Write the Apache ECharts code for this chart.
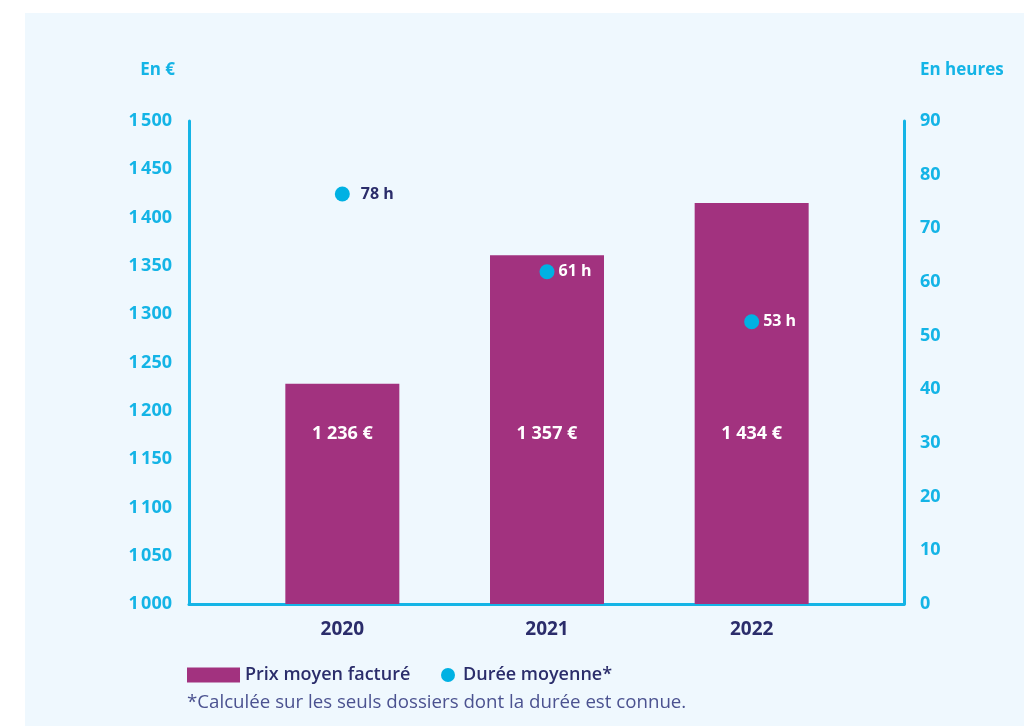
<!DOCTYPE html>
<html><head><meta charset="utf-8">
<script src="https://cdn.jsdelivr.net/npm/echarts@6/dist/echarts.min.js"></script>
<style>html,body{margin:0;padding:0;background:#fff}#c{width:1024px;height:726px}</style>
</head><body><div id="c"></div>
<script>
// Data
const categories = ['2020', '2021', '2022'];
const prixMoyen = [1228, 1361, 1415];           // bar heights as drawn (€)
const prixLabels = ['1 236 €', '1 357 €', '1 434 €'];
const dureeMoyenne = [76.4, 61.9, 52.6];         // dot positions as drawn (h)
const dureeLabels = ['78 h', '61 h', '53 h'];
const leftAxisName = 'En €';
const rightAxisName = 'En heures';
const seriesNames = ['Prix moyen facturé', 'Durée moyenne*'];
const footnote = '*Calculée sur les seuls dossiers dont la durée est connue.';

const FONT = '"Open Sans"';
const CYAN = '#14b4e6';
const NAVY = '#2b2d6b';
const PURPLE = '#a2327f';
const DOT = '#00b1e3';

function fmtThousands(v) {
  const s = String(Math.round(v));
  if (s.length > 3) return s.slice(0, s.length - 3) + '\u202f' + s.slice(-3);
  return s;
}

const chart = echarts.init(document.getElementById('c'), null, {renderer: 'canvas'});
chart.setOption({
  backgroundColor: '#ffffff',
  animation: false,
  textStyle: {fontFamily: FONT},
  graphic: [
    {type: 'rect', z: -100, silent: true, shape: {x: 25, y: 13, width: 1000, height: 714}, style: {fill: '#eff8fe'}},
    {type: 'text', left: 187, top: 693, style: {text: footnote, fill: '#4b5290', font: '400 18.7px ' + FONT}}
  ],
  legend: [
    {data: [{name: seriesNames[0], icon: 'rect'}], left: 187, top: 666, padding: 0, itemWidth: 53, itemHeight: 15, itemGap: 0,
     textStyle: {color: NAVY, fontSize: 18, fontWeight: 600, fontFamily: FONT}},
    {data: [{name: seriesNames[1], icon: 'circle'}], left: 441, top: 666, padding: 0, itemWidth: 14, itemHeight: 14, itemGap: 0,
     textStyle: {color: NAVY, fontSize: 18, fontWeight: 600, fontFamily: FONT, padding: [0, 0, 0, 3]}}
  ],
  grid: [
    {left: 189, right: 120, top: 121, bottom: 122},
    {left: 240, right: 170, top: 121, bottom: 122}
  ],
  xAxis: [
    {type: 'value', gridIndex: 0, min: 0, max: 1,
     axisLine: {show: true, onZero: false, lineStyle: {color: CYAN, width: 3}},
     axisTick: {show: false}, axisLabel: {show: false}, splitLine: {show: false}},
    {type: 'category', gridIndex: 1, data: categories,
     axisLine: {show: false}, axisTick: {show: false}, splitLine: {show: false},
     axisLabel: {color: NAVY, fontSize: 19, fontWeight: 700, margin: 16, fontFamily: FONT}}
  ],
  yAxis: [
    {type: 'value', gridIndex: 0, position: 'left', min: 1000, max: 1500, interval: 50,
     name: leftAxisName, nameLocation: 'end', nameGap: 42,
     nameTextStyle: {color: CYAN, fontSize: 17, fontWeight: 700, align: 'right', padding: [0, 14, 0, 0], fontFamily: FONT},
     axisLine: {show: true, onZero: false, lineStyle: {color: CYAN, width: 3}},
     axisTick: {show: false}, splitLine: {show: false},
     axisLabel: {color: CYAN, fontSize: 18, fontWeight: 700, margin: 17, formatter: fmtThousands, fontFamily: FONT}},
    {type: 'value', gridIndex: 0, position: 'right', min: 0, max: 90, interval: 10,
     name: rightAxisName, nameLocation: 'end', nameGap: 42,
     nameTextStyle: {color: CYAN, fontSize: 17, fontWeight: 700, align: 'left', padding: [0, 0, 0, 16], fontFamily: FONT},
     axisLine: {show: true, onZero: false, lineStyle: {color: CYAN, width: 3}},
     axisTick: {show: false}, splitLine: {show: false},
     axisLabel: {color: CYAN, fontSize: 18, fontWeight: 700, margin: 16, fontFamily: FONT}},
    {type: 'value', gridIndex: 1, min: 1000, max: 1500, show: false},
    {type: 'value', gridIndex: 1, min: 0, max: 90, show: false}
  ],
  series: [
    {name: seriesNames[0], type: 'bar', xAxisIndex: 1, yAxisIndex: 2, barWidth: 114, z: 2,
     itemStyle: {color: PURPLE},
     label: {show: true, position: 'insideBottom', distance: 161, color: '#fff', fontSize: 18, fontWeight: 700,
             fontFamily: FONT, formatter: p => prixLabels[p.dataIndex]},
     data: prixMoyen},
    {name: seriesNames[1], type: 'scatter', xAxisIndex: 1, yAxisIndex: 3, symbol: 'circle', symbolSize: 15, z: 3,
     itemStyle: {color: DOT, opacity: 1},
     label: {show: true, position: 'right', fontSize: 16, fontWeight: 700, fontFamily: FONT,
             formatter: p => dureeLabels[p.dataIndex]},
     data: dureeMoyenne.map((v, i) => ({
       value: v,
       label: i === 0 ? {color: NAVY, distance: 11} : {color: '#fff', distance: 4}
     }))}
  ]
});
</script></body></html>
